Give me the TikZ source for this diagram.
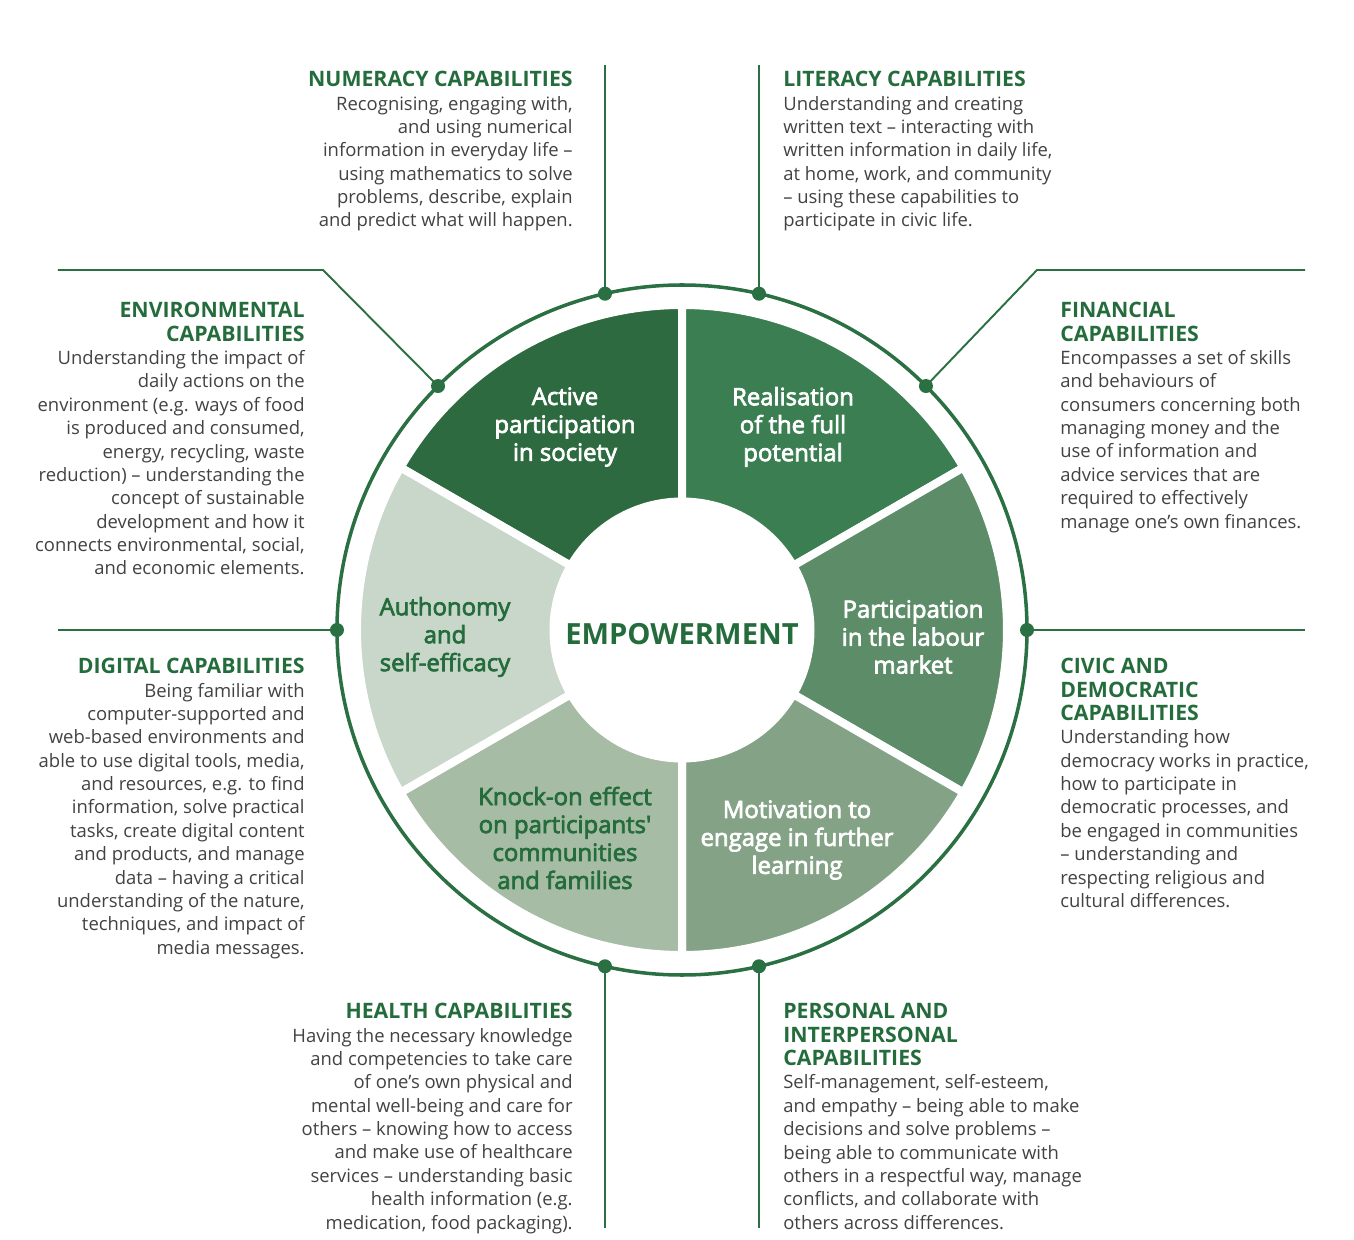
\documentclass[tikz,border=0pt]{standalone}
\usepackage{fontspec}
\setmainfont{Open Sans}
\newfontfamily\labelfont[FakeBold=3]{Open Sans}
\usetikzlibrary{positioning}
\definecolor{ring}{RGB}{42,112,66}
\definecolor{heading}{RGB}{36,108,60}
\definecolor{bodygrey}{RGB}{66,66,66}
\definecolor{segA}{RGB}{45,106,64}
\definecolor{segB}{RGB}{58,126,82}
\definecolor{segC}{RGB}{92,140,104}
\definecolor{segD}{RGB}{132,163,134}
\definecolor{segE}{RGB}{166,188,164}
\definecolor{segF}{RGB}{200,215,202}
\newcommand{\capshead}[1]{{\color{heading}\bfseries\fontsize{12.1}{13.3}\selectfont #1}}

\begin{document}
\begin{tikzpicture}[font=\fontsize{10.5}{13.3}\selectfont,
  leader/.style={line width=1.1pt, draw=ring},
  joint/.style={fill=ring},
  segment/.style={draw=white, line width=0.16cm},
  blurb/.style={text=bodygrey, inner sep=0pt},
  seglabel/.style={align=center, inner sep=0pt, font=\labelfont\fontsize{13.6}{15.9}\selectfont}]
\useasboundingbox (-13.64,12.6) rectangle (13.44,-12.2);
% --- six segments round the centre ---
\foreach \a/\col in {90/segA, 30/segB, -30/segC, -90/segD, -150/segE, 150/segF}
  \filldraw[segment, fill=\col] (\a:6.5) arc[start angle=\a, end angle=\a+60, radius=6.5]
    -- (\a+60:2.57) arc[start angle=\a+60, end angle=\a, radius=2.57] -- cycle;
\node[seglabel, text=white] (act) at (-2.34,4.06) {Active\\participation\\in society};
\node[seglabel, text=white] (real) at (2.22,4.06) {Realisation\\of the full\\potential};
\node[seglabel, text=white] (lab) at (4.62,-0.14) {Participation\\in the labour\\market};
\node[seglabel, text=white] (mot) at (2.3,-4.2) {Motivation to\\engage in further\\learning};
\node[seglabel, text=heading] (knock) at (-2.34,-4.16) {Knock-on effect\\on participants'\\communities\\and families};
\node[seglabel, text=heading] (auto) at (-4.74,-0.14) {Authonomy\\and\\self-efficacy};
\node[font=\bfseries\fontsize{16.6}{19}\selectfont, text=heading] (emp) at (0,-0.08) {EMPOWERMENT};
% --- outer ring with joints ---
\draw[ring, line width=2pt] (0,0) circle (6.9);
\coordinate (d-num) at (102.9:6.9);
\coordinate (d-lit) at (77.1:6.9);
\coordinate (d-env) at (135:6.9);
\coordinate (d-fin) at (45:6.9);
\coordinate (d-dig) at (180:6.9);
\coordinate (d-civ) at (0:6.9);
\coordinate (d-hea) at (257.1:6.9);
\coordinate (d-per) at (282.9:6.9);
\coordinate (k-env) at (-7.18,7.2);
\coordinate (k-fin) at (7.1,7.2);
\coordinate (t-env) at (-12.48,7.2);
\coordinate (t-fin) at (12.46,7.2);
\coordinate (t-dig) at (-12.48,0);
\coordinate (t-civ) at (12.46,0);
\draw[leader] (d-num) -- (d-num |- 0,11.3);
\draw[leader] (d-lit) -- (d-lit |- 0,11.3);
\draw[leader] (d-env) -- (k-env) -- (t-env);
\draw[leader] (d-fin) -- (k-fin) -- (t-fin);
\draw[leader] (d-dig) -- (t-dig);
\draw[leader] (d-civ) -- (t-civ);
\draw[leader] (d-hea) -- (d-hea |- 0,-11.96);
\draw[leader] (d-per) -- (d-per |- 0,-11.96);
\foreach \d in {num,lit,env,fin,dig,civ,hea,per}
  \fill[joint] (d-\d) circle (0.14);
% --- capability texts ---
\node[blurb, align=right, anchor=north east] (num) at (-2.18,11.18)
  {\capshead{NUMERACY CAPABILITIES}\\Recognising, engaging with,\\and using numerical\\information in everyday life –\\using mathematics to solve\\problems, describe, explain\\and predict what will happen.};
\node[blurb, align=left, anchor=north west] (lit) at (2.02,11.18)
  {\capshead{LITERACY CAPABILITIES}\\Understanding and creating\\written text – interacting with\\written information in daily life,\\at home, work, and community\\– using these capabilities to\\participate in civic life.};
\node[blurb, align=right, anchor=north east] (env) at (-7.54,6.56)
  {\capshead{ENVIRONMENTAL}\\\capshead{CAPABILITIES}\\Understanding the impact of\\daily actions on the\\environment (e.g. ways of food\\is produced and consumed,\\energy, recycling, waste\\reduction) – understanding the\\concept of sustainable\\development and how it\\connects environmental, social,\\and economic elements.};
\node[blurb, align=left, anchor=north west] (fin) at (7.56,6.56)
  {\capshead{FINANCIAL}\\\capshead{CAPABILITIES}\\Encompasses a set of skills\\and behaviours of\\consumers concerning both\\managing money and the\\use of information and\\advice services that are\\required to effectively\\manage one’s own finances.};
\node[blurb, align=right, anchor=north east] (dig) at (-7.54,-0.56)
  {\capshead{DIGITAL CAPABILITIES}\\Being familiar with\\computer-supported and\\web-based environments and\\able to use digital tools, media,\\and resources, e.g. to find\\information, solve practical\\tasks, create digital content\\and products, and manage\\data – having a critical\\understanding of the nature,\\techniques, and impact of\\media messages.};
\node[blurb, align=left, anchor=north west] (civ) at (7.56,-0.56)
  {\capshead{CIVIC AND}\\\capshead{DEMOCRATIC}\\\capshead{CAPABILITIES}\\Understanding how\\democracy works in practice,\\how to participate in\\democratic processes, and\\be engaged in communities\\– understanding and\\respecting religious and\\cultural differences.};
\node[blurb, align=right, anchor=north east] (hea) at (-2.18,-7.46)
  {\capshead{HEALTH CAPABILITIES}\\Having the necessary knowledge\\and competencies to take care\\of one’s own physical and\\mental well-being and care for\\others – knowing how to access\\and make use of healthcare\\services – understanding basic\\health information (e.g.\\medication, food packaging).};
\node[blurb, align=left, anchor=north west] (per) at (2.02,-7.46)
  {\capshead{PERSONAL AND}\\\capshead{INTERPERSONAL}\\\capshead{CAPABILITIES}\\Self-management, self-esteem,\\and empathy – being able to make\\decisions and solve problems –\\being able to communicate with\\others in a respectful way, manage\\conflicts, and collaborate with\\others across differences.};
\end{tikzpicture}
\end{document}
